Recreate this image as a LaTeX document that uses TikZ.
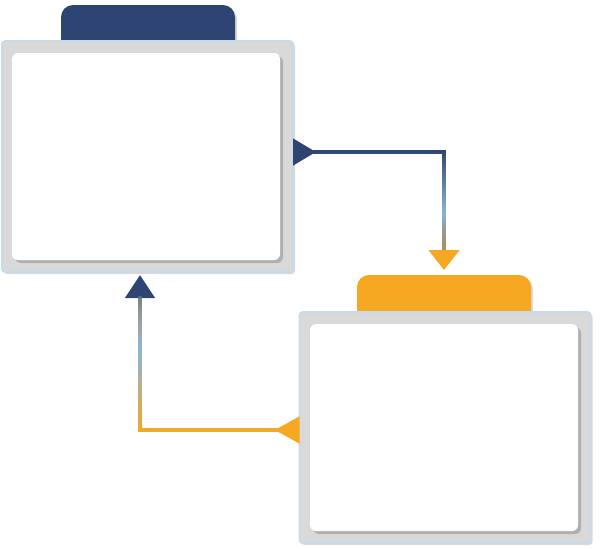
\documentclass[tikz,border=0pt]{standalone}
\usepackage{xcolor}
\usepackage{tikz}
\usetikzlibrary{arrows.meta, positioning, calc, shadows, fadings}
\definecolor{navy}{HTML}{2E4573}
\definecolor{amber}{HTML}{F7A823}
\definecolor{skyline}{HTML}{8DB4D8}
\definecolor{framegray}{HTML}{D9D9D9}
\definecolor{frameedge}{HTML}{C6DAEA}
\tikzfading[name=fade low, top color=transparent!100, bottom color=transparent!0, middle color=transparent!100]
\tikzfading[name=fade mid, top color=transparent!100, bottom color=transparent!100, middle color=transparent!0]

\begin{document}
\begin{tikzpicture}[x=0.5pt, y=-0.5pt,
    frame/.style={draw=frameedge, line width=0.8pt, fill=framegray, rounded corners=1.5pt,
      minimum width=145.5pt, minimum height=115.5pt, inner sep=0pt, outer sep=0pt,
      drop shadow={shadow xshift=1pt, shadow yshift=-1pt, opacity=0.3}},
    panel/.style={fill=white, rounded corners=3pt, minimum width=134pt, minimum height=103.5pt,
      inner sep=0pt, drop shadow={shadow xshift=1.5pt, shadow yshift=-1.5pt, opacity=0.45}},
    tab/.style={rounded corners=6pt, minimum width=87pt, minimum height=27.5pt,
      inner sep=0pt, outer sep=0pt, drop shadow={shadow xshift=1pt, shadow yshift=-1pt, opacity=0.3}},
    link/.style={line width=2.3pt},
    blend/.style={link, shorten <=12pt, shorten >=#1}]
  \useasboundingbox (0,0) rectangle (600,548);

  % tabs behind the frames
  \node[tab, fill=navy] (tab1) at (148,32.5) {};
  \node[tab, fill=amber] (tab2) at (444,302.5) {};

  % frames and white panels
  \node[frame] (box1) at (147.5,156.5) {};
  \node[panel] (panel1) at (146,156.5) {};
  \node[frame] (box2) at (445,427.5) {};
  \node[panel] (panel2) at (444,427.5) {};

  % box1 -> box2
  \draw[link, navy, shorten >=2.5pt,
    {Triangle[reversed, length=11.5pt, width=13pt]}-{Triangle[length=10pt, width=15pt, color=amber]}]
    ([yshift=2.25pt]box1.east) -| (tab2.north);
  \draw[blend=12pt, skyline, path fading=fade mid] ([yshift=2.25pt]box1.east) -| (tab2.north);
  \draw[blend=12pt, amber, path fading=fade low] ([yshift=2.25pt]box1.east) -| (tab2.north);

  % box2 -> box1
  \draw[link, amber, shorten >=1.5pt,
    {Triangle[reversed, length=12.5pt, width=13pt]}-{Triangle[length=11.5pt, width=14.5pt, color=navy]}]
    ([yshift=-1.25pt]box2.west) -| ($(box1.south)+(-7.5,0)$);
  \draw[blend=12pt, navy, path fading=fade low, fading transform={rotate=180}] ([yshift=-1.25pt]box2.west) -| ($(box1.south)+(-7.5,0)$);
  \draw[blend=12pt, skyline, path fading=fade mid] ([yshift=-1.25pt]box2.west) -| ($(box1.south)+(-7.5,0)$);
\end{tikzpicture}
\end{document}
